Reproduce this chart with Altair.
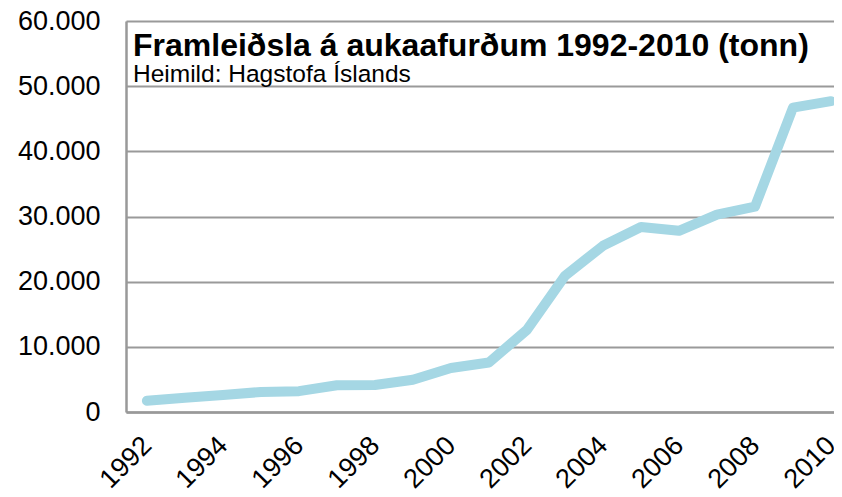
import altair as alt
import pandas as pd

years = list(range(1992, 2011))
tonn = [1730, 2200, 2600, 3070, 3200, 4100, 4150, 4960, 6750, 7600,
        12600, 20900, 25500, 28400, 27800, 30300, 31500, 46700, 47700]

title_text = ["Framleiðsla á aukaafurðum 1992-2010 (tonn)"]
subtitle_text = ["Heimild: Hagstofa Íslands"]
x_ticks = list(range(1992, 2011, 2))
y_ticks = [0, 10000, 20000, 30000, 40000, 50000, 60000]

df = pd.DataFrame({"year": years, "tonn": tonn})

FONT = "Liberation Sans"

line = alt.Chart(df).mark_line(
    color="#a5d7e4", strokeWidth=10, strokeCap="round", strokeJoin="round"
).encode(
    x=alt.X("year:Q",
            scale=alt.Scale(domain=[1991.45, 2010.08], nice=False, zero=False),
            axis=alt.Axis(values=x_ticks, format="d", labelAngle=-45,
                          labelAlign="right", labelBaseline="middle",
                          labelPadding=29, ticks=False, grid=False,
                          labelFontSize=27, labelFont=FONT, labelColor="#000",
                          domainColor="#999", domainWidth=2.5, title=None,
                          labelOverlap=False)),
    y=alt.Y("tonn:Q",
            scale=alt.Scale(domain=[0, 60000], nice=False),
            axis=alt.Axis(values=y_ticks,
                          labelExpr="replace(format(datum.value, ','), ',', '.')",
                          labelPadding=26, ticks=False, grid=True,
                          gridColor="#9a9a9a", gridWidth=2, gridOpacity=1,
                          labelFontSize=27, labelFont=FONT, labelColor="#000",
                          domainColor="#999", domainWidth=2.5, title=None)),
)

title = alt.Chart(pd.DataFrame({"t": title_text})).mark_text(
    align="left", baseline="alphabetic", font=FONT, fontSize=32,
    fontWeight="bold", color="#000"
).encode(text="t:N", x=alt.value(7), y=alt.value(35))

subtitle = alt.Chart(pd.DataFrame({"t": subtitle_text})).mark_text(
    align="left", baseline="alphabetic", font=FONT, fontSize=24.5, color="#000"
).encode(text="t:N", x=alt.value(7), y=alt.value(61))

chart = alt.layer(line, title, subtitle).properties(
    width=708, height=391,
    autosize=alt.AutoSizeParams(type="none"),
    padding={"left": 118, "top": 13, "right": 0, "bottom": 77},
).configure_view(
    fill="#f4f4f4", stroke=None
).configure(background="white")

chart.save("out.html", embed_options={"renderer": "svg", "actions": False})
